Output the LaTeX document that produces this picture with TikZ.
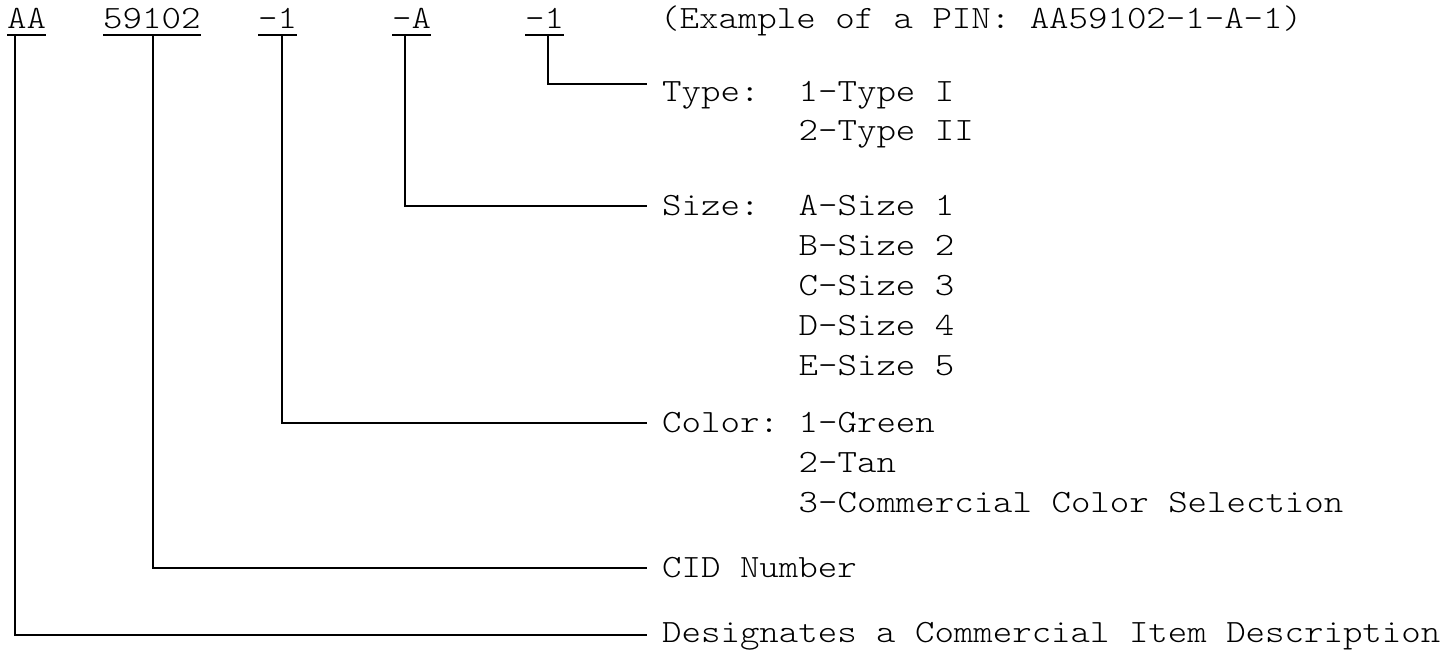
\documentclass[tikz,border=0pt]{standalone}
\usepackage{fontspec}
\newfontfamily\pinfont[FakeStretch=1.14]{Latin Modern Mono Light}
\begin{document}
\begin{tikzpicture}[x=1pt,y=-1pt,
  txt/.style={font=\pinfont\fontsize{32.5}{40}\selectfont, inner sep=0pt, anchor=base west},
  code/.style={txt, text depth=7pt},
  ln/.style={line width=1.8pt}]
\useasboundingbox (0,0) rectangle (1443,649);
% PIN parts
\node[code] (aa)  at (7,28)   {AA};
\node[code] (cid) at (103,28) {59102};
\node[code] (col) at (258,28) {-1};
\node[code] (siz) at (392,28) {-A};
\node[code] (typ) at (525,28) {-1};
\node[txt]  (ex)  at (660,28) {(Example of a PIN: AA59102-1-A-1)};
\foreach \n in {aa,cid,col,siz,typ}
  \draw[line width=1.6pt] (\n.south west) -- (\n.south east);
% labels
\node[txt] (lType) at (662,101) {Type:};
\node[txt] (t1) at (798.5,101) {1-Type I};
\node[txt] (t2) at (798.5,140) {2-Type II};
\node[txt] (lSize) at (662,215) {Size:};
\node[txt] (s1) at (798.5,215) {A-Size 1};
\node[txt] (s2) at (798.5,255) {B-Size 2};
\node[txt] (s3) at (798.5,295) {C-Size 3};
\node[txt] (s4) at (798.5,335) {D-Size 4};
\node[txt] (s5) at (798.5,375) {E-Size 5};
\node[txt] (lColor) at (662,432) {Color:};
\node[txt] (c1) at (798.5,432) {1-Green};
\node[txt] (c2) at (798.5,472) {2-Tan};
\node[txt] (c3) at (798.5,512) {3-Commercial Color Selection};
\node[txt] (lCid) at (662,577) {CID Number};
\node[txt] (lDes) at (662,642) {Designates a Commercial Item Description};
% connector ends
\coordinate (eType) at (647,84);
\coordinate (eSize) at (647,206);
\coordinate (eColor) at (647,423);
\coordinate (eCid) at (647,568);
\coordinate (eDes) at (647,635);
% connectors
\draw[ln] ([xshift=3.5pt]typ.south) |- (eType);
\draw[ln] ([xshift=-6.5pt]siz.south) |- (eSize);
\draw[ln] ([xshift=4.5pt]col.south) |- (eColor);
\draw[ln] ([xshift=1pt]cid.south) |- (eCid);
\draw[ln] ([xshift=-11.5pt]aa.south) |- (eDes);
\end{tikzpicture}
\end{document}
